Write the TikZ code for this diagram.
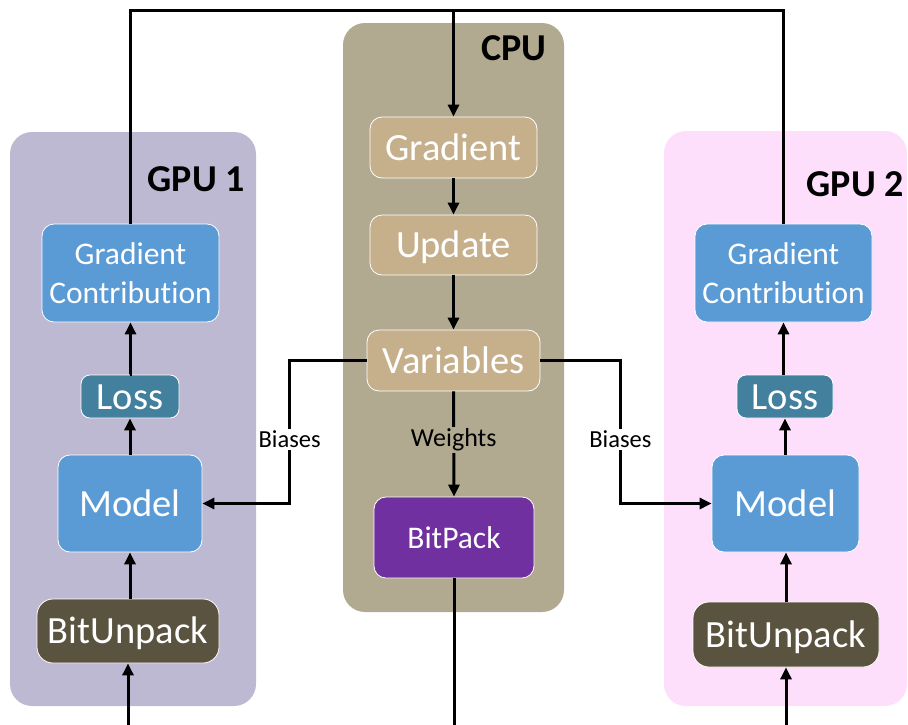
\documentclass[tikz,border=0pt]{standalone}
\usepackage{fontspec}
\setmainfont{Carlito}[Ligatures=NoCommon]
\usetikzlibrary{arrows.meta}

\definecolor{gpuonebg}{HTML}{BDB9D2}
\definecolor{cpubg}{HTML}{B1AA91}
\definecolor{gputwobg}{HTML}{FDDEFB}
\definecolor{tanbox}{HTML}{C6AF8B}
\definecolor{bluebox}{HTML}{5B9BD5}
\definecolor{tealbox}{HTML}{42809E}
\definecolor{olivebox}{HTML}{5A533F}
\definecolor{purplebox}{HTML}{7030A0}

\begin{document}
\begin{tikzpicture}[x=1pt,y=-1pt,
  panel/.style={rounded corners=22pt},
  box/.style={rounded corners=12pt, draw=white, line width=0.8pt, text=white,
              align=center, inner sep=0pt},
  big/.style={font=\fontsize{38.5}{40}\selectfont, text height=25pt, text depth=0pt},
  mid/.style={font=\fontsize{31.5}{39}\selectfont},
  tag/.style={font=\bfseries\fontsize{38}{40}\selectfont, anchor=base east, inner sep=0pt},
  flow/.style={line width=3pt, -{Triangle[length=12pt,width=11pt]}},
  wire/.style={line width=3pt},
  lbl/.style={font=\fontsize{24.5}{26}\selectfont, inner sep=2pt}]

\useasboundingbox (0,0) rectangle (908,724);
\begin{scope}
\clip (0,0) rectangle (908,724);

% device panels
\fill[gpuonebg, panel] (10,132) rectangle (256,706);
\fill[cpubg, panel] (343,23) rectangle (564,612);
\fill[gputwobg, panel] (664,131) rectangle (907,706);

\node[tag] (gpu1lbl) at (245,191) {GPU 1};
\node[tag] (cpulbl) at (547,60) {CPU};
\node[tag] (gpu2lbl) at (904,196) {GPU 2};

% GPU 1
\node[box, mid, fill=bluebox, minimum width=177pt, minimum height=98pt] (gc1) at (130.5,273) {Gradient\\Contribution};
\node[box, big, fill=tealbox, minimum width=98pt, minimum height=43pt, rounded corners=9pt] (loss1) at (130,396.5) {Loss};
\node[box, big, fill=bluebox, minimum width=144pt, minimum height=97pt] (model1) at (130,503.5) {Model};
\node[box, big, fill=olivebox, minimum width=182pt, minimum height=64pt, rounded corners=16pt] (bu1) at (128,631) {BitUnpack};

% CPU
\node[box, big, fill=tanbox, minimum width=167pt, minimum height=61pt] (grad) at (453.5,147.5) {Gradient};
\node[box, big, fill=tanbox, minimum width=167pt, minimum height=60pt] (update) at (453.5,245) {Update};
\node[box, big, fill=tanbox, minimum width=173pt, minimum height=61pt] (vars) at (453.5,360.5) {Variables};
\node[box, mid, fill=purplebox, minimum width=160pt, minimum height=81pt] (bitpack) at (454,537.5) {BitPack};

% GPU 2
\node[box, mid, fill=bluebox, minimum width=177pt, minimum height=98pt] (gc2) at (783.5,273) {Gradient\\Contribution};
\node[box, big, fill=tealbox, minimum width=96pt, minimum height=43pt, rounded corners=9pt] (loss2) at (785,396.5) {Loss};
\node[box, big, fill=bluebox, minimum width=147pt, minimum height=97pt] (model2) at (785.5,503.5) {Model};
\node[box, big, fill=olivebox, minimum width=186pt, minimum height=65pt, rounded corners=16pt] (bu2) at (786,634.5) {BitUnpack};

% gradient bus across the top
\coordinate (bus) at (453.5,10);
\draw[wire] (gc1.north) |- (bus) -| (gc2.north);
\draw[flow] (bus) -- (grad.north);

% CPU chain
\draw[flow] (grad.south) -- (update.north);
\draw[flow] (update.south) -- (vars.north);
\draw[flow] (vars.south) -- node[lbl, font=\fontsize{26}{28}\selectfont, fill=cpubg, pos=0.46] {Weights} (bitpack.north);
\coordinate (packout) at (454,730);
\draw[wire] (bitpack.south) -- (packout);

% biases to each model
\draw[flow] (vars.west) -- ++(-77,0) coordinate (bl)
  -- node[lbl, fill=white, pos=0.55] {Biases} (bl |- model1.east) -- (model1.east);
\draw[flow] (vars.east) -- ++(80,0) coordinate (br)
  -- node[lbl, fill=white, pos=0.55] {Biases} (br |- model2.west) -- (model2.west);

% GPU pipelines
\coordinate (in1) at (128,730);
\coordinate (in2) at (786,730);
\draw[flow] (in1) -- (bu1.south);
\draw[flow] (bu1.north -| model1.south) -- (model1.south);
\draw[flow] (model1.north) -- (loss1.south);
\draw[flow] (loss1.north) -- (gc1.south |- loss1.north) -- (gc1.south);
\draw[flow] (in2) -- (bu2.south);
\draw[flow] (bu2.north) -- (model2.south -| bu2.north);
\draw[flow] (model2.north -| loss2.north) -- (loss2.south);
\draw[flow] (loss2.north -| gc2.south) -- (gc2.south);
\end{scope}
\end{tikzpicture}
\end{document}
